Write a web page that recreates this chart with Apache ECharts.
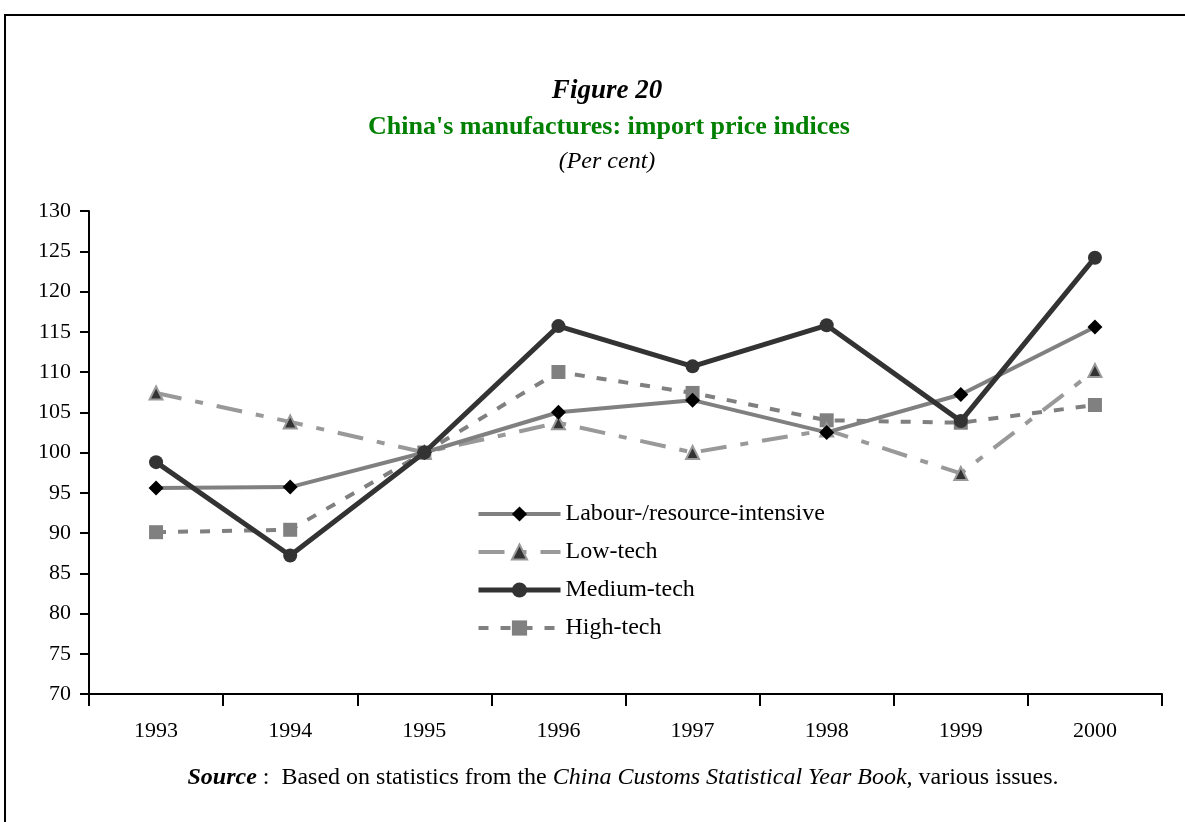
<!DOCTYPE html>
<html>
<head>
<meta charset="utf-8">
<script src="https://cdn.jsdelivr.net/npm/echarts@6/dist/echarts.min.js"></script>
<style>
  html, body { margin: 0; padding: 0; background: #fff; }
  #chart { width: 1185px; height: 822px; }
</style>
</head>
<body>
<div id="chart"></div>
<script>
// import price indices, per cent
const years = ['1993', '1994', '1995', '1996', '1997', '1998', '1999', '2000']
const labour = [95.6, 95.7, 100, 105.0, 106.5, 102.5, 107.2, 115.6]
const lowTech = [107.4, 103.8, 100, 103.7, 100.0, 102.8, 97.4, 110.2]
const mediumTech = [98.8, 87.2, 100, 115.7, 110.7, 115.8, 103.9, 124.2]
const highTech = [90.1, 90.4, 100, 110.0, 107.4, 104.0, 103.7, 105.9]

const serif = '"Liberation Serif", "DejaVu Serif", serif'

const lowDash = [26, 14, 8, 14]
const highDash = [10, 12]

const chart = echarts.init(document.getElementById('chart'))

chart.setOption({
  backgroundColor: '#fff',
  animation: false,
  textStyle: { fontFamily: serif, color: '#000' },
  title: [
    {
      text: 'Figure 20',
      left: 602, top: 73, textAlign: 'center',
      textStyle: { fontFamily: serif, fontSize: 27, fontWeight: 'bold', fontStyle: 'italic', color: '#000' },
    },
    {
      text: "China's manufactures: import price indices",
      left: 604, top: 109, textAlign: 'center',
      textStyle: { fontFamily: serif, fontSize: 26, fontWeight: 'bold', color: '#008000' },
    },
    {
      text: '(Per cent)',
      left: 602, top: 145, textAlign: 'center',
      textStyle: { fontFamily: serif, fontSize: 24, fontStyle: 'italic', fontWeight: 'normal', color: '#000' },
    },
  ],
  graphic: [
    {
      type: 'rect',
      shape: { x: 5, y: 15, width: 1250, height: 900 },
      style: { fill: 'none', stroke: '#000', lineWidth: 2 },
    },
    {
      type: 'text',
      x: 623, y: 778,
      style: {
        text: '{b|Source} :  Based on statistics from the {i|China Customs Statistical Year Book,} various issues.',
        font: '24px ' + serif,
        fill: '#000',
        align: 'center',
        verticalAlign: 'middle',
        rich: {
          b: { fontWeight: 'bold', fontStyle: 'italic', fontSize: 24, fontFamily: serif },
          i: { fontStyle: 'italic', fontSize: 24, fontFamily: serif },
        },
      },
    },
  ],
  legend: {
    orient: 'vertical',
    left: 471, top: 497,
    itemWidth: 82, itemHeight: 19,
    itemGap: 14,
    textStyle: { fontFamily: serif, fontSize: 24, lineHeight: 24, color: '#000' },
    data: [
      { name: 'Labour-/resource-intensive', lineStyle: { width: 4, color: '#808080' } },
      { name: 'Low-tech', lineStyle: { width: 4, color: '#999', type: lowDash } },
      { name: 'Medium-tech', lineStyle: { width: 5, color: '#333' } },
      { name: 'High-tech', lineStyle: { width: 4, color: '#808080', type: highDash } },
    ],
  },
  grid: { left: 89, right: 23, top: 211, bottom: 128 },
  xAxis: {
    type: 'category',
    data: years,
    boundaryGap: true,
    axisLine: { lineStyle: { color: '#000', width: 2 } },
    axisTick: { show: true, length: 12, lineStyle: { color: '#000', width: 2 } },
    axisLabel: { color: '#000', fontSize: 22, fontFamily: serif, margin: 26 },
  },
  yAxis: {
    type: 'value',
    min: 70, max: 130, interval: 5,
    axisLine: { show: true, lineStyle: { color: '#000', width: 2 } },
    axisTick: { show: true, length: 9, lineStyle: { color: '#000', width: 2 } },
    axisLabel: { color: '#000', fontSize: 22, fontFamily: serif, margin: 18 },
    splitLine: { show: false },
  },
  series: [
    {
      name: 'Labour-/resource-intensive',
      type: 'line',
      data: labour,
      symbol: 'diamond', symbolSize: 15,
      itemStyle: { color: '#000' },
      lineStyle: { color: '#808080', width: 4 },
      z: 3,
    },
    {
      name: 'Low-tech',
      type: 'line',
      data: lowTech,
      symbol: 'triangle', symbolSize: 13,
      itemStyle: { color: '#333', borderColor: '#999', borderWidth: 2 },
      lineStyle: { color: '#999', width: 4, type: lowDash },
      z: 2,
    },
    {
      name: 'Medium-tech',
      type: 'line',
      data: mediumTech,
      symbol: 'circle', symbolSize: 14,
      itemStyle: { color: '#333' },
      lineStyle: { color: '#333', width: 5 },
      z: 4,
    },
    {
      name: 'High-tech',
      type: 'line',
      data: highTech,
      symbol: 'rect', symbolSize: 14,
      itemStyle: { color: '#808080' },
      lineStyle: { color: '#808080', width: 4, type: highDash },
      z: 1,
    },
  ],
})
</script>
</body>
</html>
